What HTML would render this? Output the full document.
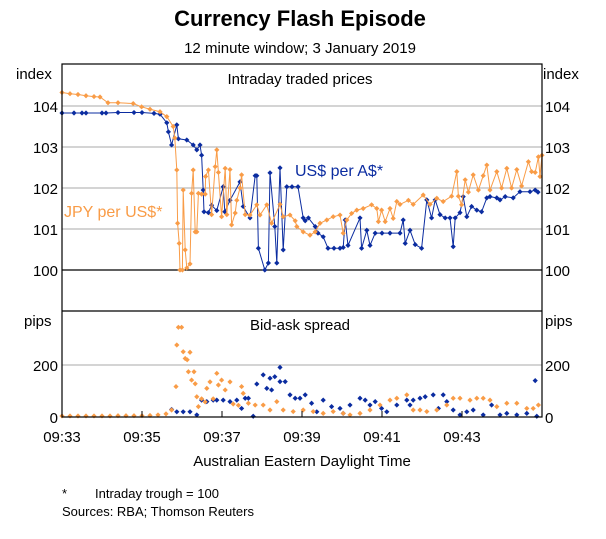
<!DOCTYPE html>
<html><head><meta charset="utf-8"><style>
body{margin:0;background:#fff;width:606px;height:534px;overflow:hidden;font-family:"Liberation Sans",Arial,sans-serif}
svg text{font-family:"Liberation Sans",Arial,sans-serif}
</style></head><body>
<svg id="chart" width="606" height="534" xmlns="http://www.w3.org/2000/svg">
<text x="300" y="26" text-anchor="middle" font-size="22" font-weight="bold">Currency Flash Episode</text>
<text x="300" y="53" text-anchor="middle" font-size="15">12 minute window; 3 January 2019</text>
<g id="grid"></g>
<g id="series"></g>
<rect x="62" y="64" width="480" height="353" fill="none" stroke="#000" stroke-width="1.2"/>
<line x1="62" y1="311" x2="542" y2="311" stroke="#000" stroke-width="1.2"/>
<g id="axes"></g>
<text x="16" y="79" font-size="15">index</text>
<text x="543" y="79" font-size="15">index</text>
<text x="24" y="326" font-size="15">pips</text>
<text x="545" y="326" font-size="15">pips</text>
<text x="300" y="84" text-anchor="middle" font-size="15">Intraday traded prices</text>
<text x="300" y="330" text-anchor="middle" font-size="15">Bid-ask spread</text>
<text x="295" y="176" font-size="16" fill="#0b2ca0">US$ per A$*</text>
<text x="64" y="217" font-size="16" fill="#f99c47">JPY per US$*</text>
<text x="302" y="466" text-anchor="middle" font-size="15">Australian Eastern Daylight Time</text>
<text x="62" y="498" font-size="13">*</text>
<text x="95" y="498" font-size="13">Intraday trough = 100</text>
<text x="62" y="516" font-size="13">Sources: RBA; Thomson Reuters</text>
</svg>
<script>
const xTicks=["09:33","09:35","09:37","09:39","09:41","09:43"];
const xTickMinutes=[0,2,4,6,8,10];
const topTicks=[100,101,102,103,104];
const bottomTicks=[0,200];
const audT=[0,0.3,0.5,0.6,1.0,1.1,1.4,1.8,2.0,2.3,2.45,2.62,2.66,2.74,2.87,2.91,3.12,3.28,3.37,3.45,3.49,3.53,3.55,3.66,3.74,3.87,4.03,4.07,4.2,4.45,4.53,4.7,4.83,4.87,4.91,5.07,5.16,5.2,5.32,5.37,5.45,5.53,5.62,5.75,5.9,6.03,6.08,6.16,6.33,6.4,6.53,6.65,6.8,6.95,7.03,7.08,7.15,7.45,7.49,7.62,7.7,7.83,8.0,8.2,8.45,8.53,8.58,8.7,8.83,8.99,9.12,9.24,9.33,9.45,9.58,9.7,9.78,9.83,9.95,10.03,10.12,10.24,10.37,10.49,10.62,10.7,10.87,10.95,11.08,11.28,11.45,11.7,11.83,11.9];
const audV=[103.83,103.83,103.83,103.83,103.83,103.83,103.84,103.84,103.84,103.82,103.8,103.59,103.37,103.05,103.54,103.2,103.17,103.05,102.93,103.05,102.8,101.95,101.42,101.4,101.58,101.45,102.03,101.42,101.7,102.15,101.55,101.27,102.3,102.3,100.53,100.0,100.17,102.37,101.06,100.17,102.49,100.49,102.03,102.03,102.03,101.27,101.2,101.27,101.06,100.9,100.81,100.53,100.53,100.53,100.55,101.22,100.6,101.27,100.53,100.97,100.6,100.9,100.9,100.9,100.9,101.22,100.65,100.97,100.62,100.53,101.71,101.27,101.71,101.35,101.27,101.27,100.57,101.27,101.4,101.79,101.3,101.55,101.46,101.42,101.76,101.79,101.76,101.71,101.79,101.76,101.91,101.91,101.95,101.9];
const jpyT=[0,0.2,0.4,0.6,0.8,0.95,1.15,1.4,1.78,1.99,2.2,2.45,2.62,2.78,2.82,2.87,2.89,2.93,2.95,3.01,3.03,3.08,3.12,3.2,3.24,3.28,3.33,3.37,3.41,3.49,3.58,3.59,3.66,3.74,3.83,3.87,3.91,3.99,4.08,4.12,4.2,4.24,4.33,4.37,4.45,4.49,4.58,4.7,4.87,4.95,5.12,5.24,5.45,5.53,5.7,5.83,5.87,6.03,6.2,6.33,6.45,6.62,6.78,6.95,7.03,7.12,7.24,7.37,7.53,7.74,7.87,7.91,7.99,8.08,8.2,8.28,8.37,8.45,8.66,8.78,9.03,9.2,9.37,9.53,9.74,9.87,9.91,9.99,10.08,10.16,10.28,10.41,10.53,10.62,10.7,10.87,10.99,11.12,11.24,11.37,11.49,11.66,11.74,11.83,11.91,11.95,12.0];
const jpyV=[104.33,104.3,104.28,104.25,104.23,104.22,104.08,104.08,104.06,103.98,103.92,103.86,103.74,103.5,103.22,102.44,101.14,100.65,100.0,100.0,101.95,100.49,100.05,100.15,101.87,102.44,100.93,100.93,101.87,101.85,101.85,102.28,102.44,101.35,102.52,102.93,102.38,101.3,102.48,101.35,102.45,101.1,101.39,101.7,102.0,102.32,101.35,101.34,101.59,101.34,101.59,101.14,101.6,101.3,101.34,101.2,101.06,100.93,100.85,100.93,101.14,101.22,101.3,101.34,100.9,101.22,101.38,101.46,101.5,101.59,101.5,101.18,101.46,101.18,101.5,101.26,101.67,101.6,101.7,101.6,101.83,101.6,101.75,101.67,101.8,102.4,101.8,101.59,102.2,101.9,102.32,101.95,102.3,102.56,101.95,102.4,102.0,102.48,102.0,102.45,102.05,102.64,102.4,102.38,102.76,102.28,102.8];
const jpySpreadT=[0,0.2,0.4,0.6,0.8,1.0,1.2,1.4,1.6,1.8,2.0,2.2,2.4,2.6,2.74,2.85,2.87,2.91,2.99,3.03,3.08,3.13,3.16,3.2,3.24,3.3,3.33,3.37,3.41,3.49,3.58,3.62,3.7,3.78,3.87,3.91,3.99,4.08,4.2,4.28,4.41,4.49,4.53,4.66,4.83,5.03,5.2,5.37,5.53,5.78,6.03,6.28,6.53,6.78,7.03,7.2,7.45,7.7,7.95,8.2,8.37,8.62,8.78,8.95,9.12,9.37,9.62,9.78,9.95,10.2,10.37,10.53,10.7,10.87,11.12,11.37,11.62,11.78,11.91];
const jpySpreadV=[4,4,4,4,4,4,4,5,5,5,5,6,8,12,27,117,277,345,345,251,225,220,174,249,142,174,128,78,40,70,58,110,135,70,168,123,142,104,135,50,45,117,91,53,46,46,27,59,27,21,27,21,14,21,14,8,14,27,46,65,72,85,27,27,21,27,46,72,72,65,72,72,65,40,53,53,33,33,46];
const audSpreadT=[2.74,2.87,3.03,3.2,3.37,3.49,3.62,3.78,3.87,4.03,4.2,4.37,4.49,4.58,4.66,4.78,4.87,5.03,5.12,5.2,5.24,5.32,5.45,5.45,5.58,5.7,5.83,5.95,6.08,6.24,6.37,6.53,6.74,6.95,7.03,7.2,7.45,7.58,7.7,7.83,7.99,8.12,8.37,8.62,8.7,8.78,8.95,9.08,9.28,9.41,9.53,9.62,9.78,9.95,10.12,10.28,10.53,10.74,10.95,11.12,11.37,11.62,11.83,11.87];
const audSpreadV=[29,20,20,20,8,65,59,65,65,65,59,65,33,72,72,3,127,162,110,149,104,155,191,136,136,85,72,72,85,53,20,65,40,33,14,46,72,65,46,59,33,20,46,65,46,65,72,78,85,33,85,59,27,8,20,27,8,46,8,14,8,14,140,3];

const NS="http://www.w3.org/2000/svg";
const X0=62,PXMIN=40;
function xs(t){return X0+t*PXMIN;}
function yTop(v){return 270-(v-100)*41;}
function yBot(p){return 417-p*0.26;}
const grid=document.getElementById('grid'),series=document.getElementById('series'),axes=document.getElementById('axes');
function mk(tag,attrs,parent){const e=document.createElementNS(NS,tag);for(const k in attrs)e.setAttribute(k,attrs[k]);parent.appendChild(e);return e;}

topTicks.forEach(v=>{
  const l=mk('line',{x1:62,x2:542,y1:yTop(v),y2:yTop(v),stroke:v===100?'#000':'#aaa','stroke-width':v===100?1.2:1},grid);
  
  
  const a=mk('text',{x:58,y:yTop(v)+6,'text-anchor':'end','font-size':15},axes);a.textContent=v;
  
  
  const b=mk('text',{x:545,y:yTop(v)+6,'font-size':15},axes);b.textContent=v;
  
  
});
bottomTicks.forEach(v=>{
  if(v>0){const l=mk('line',{x1:62,x2:542,y1:yBot(v),y2:yBot(v),stroke:'#aaa','stroke-width':1},grid);
  
  }
  const a=mk('text',{x:58,y:yBot(v)+6,'text-anchor':'end','font-size':15},axes);a.textContent=v;
  
  
  const b=mk('text',{x:545,y:yBot(v)+6,'font-size':15},axes);b.textContent=v;
  
  
});
xTicks.forEach((lab,i)=>{
  const x=xs(xTickMinutes[i]);
  const tk=mk('line',{x1:x,x2:x,y1:411,y2:417,stroke:'#000','stroke-width':1},axes);
  
  
  const t=mk('text',{x:x,y:442,'text-anchor':'middle','font-size':15},axes);t.textContent=lab;
  
  
});
function diamond(x,y,c,g){const r=2.6;const p=mk('polygon',{points:`${x},${y-r} ${x+r},${y} ${x},${y+r} ${x-r},${y}`,fill:c},g);return p;}
function lineSeries(T,V,c,name){
  const g=mk('g',{},series);
  
  
  const pl=mk('polyline',{points:T.map((t,i)=>xs(t)+','+yTop(V[i])).join(' '),fill:'none',stroke:c,'stroke-width':1},g);
  
  
  T.forEach((t,i)=>{const d=diamond(xs(t),yTop(V[i]),c,g);
    
    });
}
function scatter(T,V,c,name){
  const g=mk('g',{},series);
  
  
  T.forEach((t,i)=>{const d=diamond(xs(t),yBot(V[i]),c,g);
    
    });
}
lineSeries(audT,audV,'#0b2ca0','aud-price-series');
lineSeries(jpyT,jpyV,'#f99c47','jpy-price-series');
scatter(audSpreadT,audSpreadV,'#0b2ca0','aud-spread-series');
scatter(jpySpreadT,jpySpreadV,'#f99c47','jpy-spread-series');
</script>
</body></html>
